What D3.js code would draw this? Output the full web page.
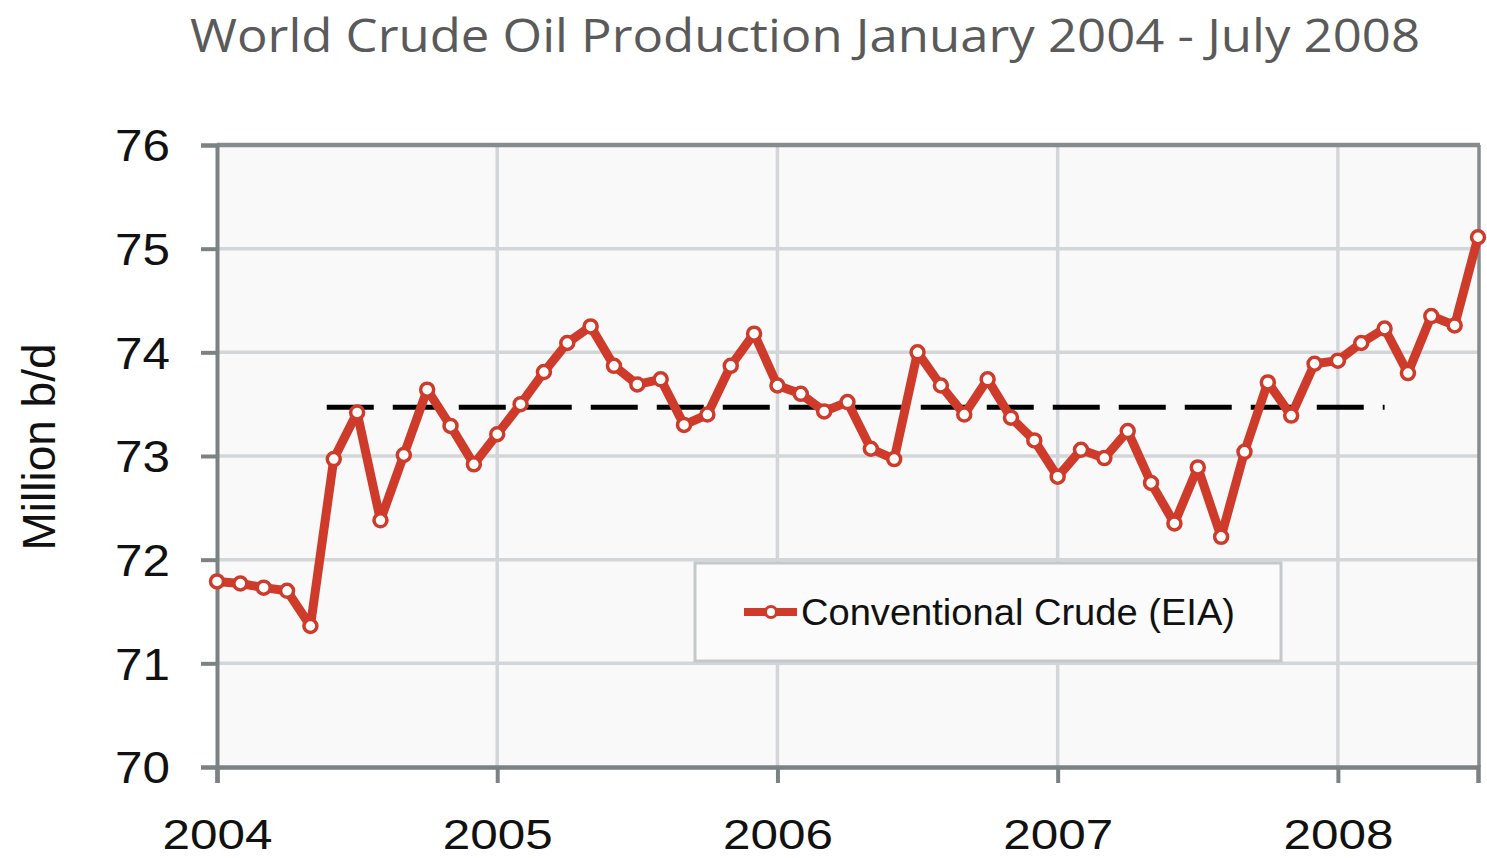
<!DOCTYPE html>
<html>
<head>
<meta charset="utf-8">
<script src="https://cdn.jsdelivr.net/npm/d3@7/dist/d3.min.js"></script>
<style>
  html, body { margin: 0; padding: 0; background: #ffffff; }
  svg { display: block; }
</style>
</head>
<body>
<svg id="chart" width="1487" height="858"></svg>
<script>
// ---------- DATA ----------
const months = [
  "2004-01","2004-02","2004-03","2004-04","2004-05","2004-06","2004-07","2004-08","2004-09","2004-10","2004-11","2004-12",
  "2005-01","2005-02","2005-03","2005-04","2005-05","2005-06","2005-07","2005-08","2005-09","2005-10","2005-11","2005-12",
  "2006-01","2006-02","2006-03","2006-04","2006-05","2006-06","2006-07","2006-08","2006-09","2006-10","2006-11","2006-12",
  "2007-01","2007-02","2007-03","2007-04","2007-05","2007-06","2007-07","2007-08","2007-09","2007-10","2007-11","2007-12",
  "2008-01","2008-02","2008-03","2008-04","2008-05","2008-06","2008-07"
];
const production = [
  71.79, 71.77, 71.73, 71.70, 71.36, 72.97, 73.42, 72.38, 73.01, 73.64, 73.29, 72.92,
  73.21, 73.50, 73.81, 74.09, 74.25, 73.87, 73.69, 73.74, 73.30, 73.40, 73.87, 74.18,
  73.68, 73.60, 73.43, 73.52, 73.07, 72.97, 74.00, 73.68, 73.40, 73.74, 73.37, 73.15,
  72.80, 73.06, 72.98, 73.24, 72.74, 72.35, 72.89, 72.22, 73.04, 73.71, 73.39, 73.89,
  73.92, 74.09, 74.23, 73.80, 74.35, 74.26, 75.11
];
// plateau reference line: level and span in month index units
const plateauLevel = 73.47;
const plateauSpan = [4.7, 50];

const yearTickIndex = [0, 12, 24, 36, 48];
const yearTickLabels = ["2004", "2005", "2006", "2007", "2008"];
const yTicks = [70, 71, 72, 73, 74, 75, 76];

const titleText = "World Crude Oil Production January 2004 - July 2008";
const yAxisTitle = "Million b/d";
const seriesName = "Conventional Crude (EIA)";

// ---------- LAYOUT ----------
const svg = d3.select("#chart");
const plot = { left: 217, right: 1478, top: 145, bottom: 767 };
const red = "#cf3b2a";
const axisGray = "#7c8184";
const gridGray = "#d3d6d9";

const x = d3.scaleLinear().domain([0, months.length - 1]).range([plot.left, plot.right]);
const y = d3.scaleLinear().domain([70, 76]).range([plot.bottom, plot.top]);

// title
svg.append("text")
  .attr("x", 190).attr("y", 52)
  .attr("textLength", 1230).attr("lengthAdjust", "spacingAndGlyphs")
  .attr("font-family", "'Open Sans', 'Noto Sans', sans-serif")
  .attr("font-size", 45)
  .attr("fill", "#5a5a5a")
  .text(titleText);

// plot background
svg.append("rect")
  .attr("x", plot.left).attr("y", plot.top)
  .attr("width", plot.right - plot.left).attr("height", plot.bottom - plot.top)
  .attr("fill", "#f9f9f9");

// grid lines
svg.append("g").selectAll("line.hg")
  .data(yTicks.filter(t => t > 70 && t < 76))
  .join("line")
  .attr("x1", plot.left).attr("x2", plot.right)
  .attr("y1", d => y(d)).attr("y2", d => y(d))
  .attr("stroke", gridGray).attr("stroke-width", 3.5);

svg.append("g").selectAll("line.vg")
  .data(yearTickIndex.slice(1))
  .join("line")
  .attr("x1", d => x(d)).attr("x2", d => x(d))
  .attr("y1", plot.top).attr("y2", plot.bottom)
  .attr("stroke", gridGray).attr("stroke-width", 3.5);

// border top/right
svg.append("line")
  .attr("x1", plot.left).attr("x2", plot.right + 2)
  .attr("y1", plot.top).attr("y2", plot.top)
  .attr("stroke", "#868b8e").attr("stroke-width", 4.5);
svg.append("line")
  .attr("x1", plot.right + 1).attr("x2", plot.right + 1)
  .attr("y1", plot.top).attr("y2", plot.bottom)
  .attr("stroke", "#868b8e").attr("stroke-width", 3.5);

// y axis
const yAxis = svg.append("g")
  .attr("transform", `translate(${plot.left},0)`)
  .call(d3.axisLeft(y).tickValues(yTicks).tickFormat(d3.format("d")).tickSize(16).tickPadding(31));
yAxis.select(".domain").attr("stroke", axisGray).attr("stroke-width", 4);
yAxis.selectAll(".tick line").attr("stroke", axisGray).attr("stroke-width", 4);
yAxis.selectAll(".tick text")
  .attr("font-family", "'Liberation Sans', Arial, sans-serif")
  .attr("font-size", 44)
  .attr("fill", "#111")
  .attr("dy", "0.36em")
  .attr("textLength", 55).attr("lengthAdjust", "spacingAndGlyphs");

// x axis
const xAxis = svg.append("g")
  .attr("transform", `translate(0,${plot.bottom})`)
  .call(d3.axisBottom(x).tickValues(yearTickIndex)
    .tickFormat((d, i) => yearTickLabels[i]).tickSize(16).tickPadding(35));
xAxis.select(".domain").attr("stroke", axisGray).attr("stroke-width", 4.5);
xAxis.selectAll(".tick line").attr("stroke", axisGray).attr("stroke-width", 4);
xAxis.selectAll(".tick text")
  .attr("font-family", "'Liberation Sans', Arial, sans-serif")
  .attr("font-size", 43)
  .attr("fill", "#111")
  .attr("dy", "0.71em")
  .attr("textLength", 110).attr("lengthAdjust", "spacingAndGlyphs");

// y axis title
svg.append("text")
  .attr("transform", "translate(55,447) rotate(-90)")
  .attr("text-anchor", "middle")
  .attr("font-family", "'Liberation Sans', Arial, sans-serif")
  .attr("font-size", 46)
  .attr("fill", "#111")
  .text(yAxisTitle);

// plateau dashed line
svg.append("line")
  .attr("x1", x(plateauSpan[0])).attr("x2", x(plateauSpan[1]))
  .attr("y1", y(plateauLevel)).attr("y2", y(plateauLevel))
  .attr("stroke", "#000").attr("stroke-width", 5)
  .attr("stroke-dasharray", "47 19");

// series line
const data = production.map((v, i) => ({ i, v, m: months[i] }));
svg.append("path")
  .datum(data)
  .attr("fill", "none")
  .attr("stroke", red)
  .attr("stroke-width", 9)
  .attr("stroke-linejoin", "round")
  .attr("d", d3.line().x(d => x(d.i)).y(d => y(d.v)));

svg.append("g").selectAll("circle")
  .data(data)
  .join("circle")
  .attr("cx", d => x(d.i)).attr("cy", d => y(d.v))
  .attr("r", 6.5)
  .attr("fill", "#fff")
  .attr("stroke", red)
  .attr("stroke-width", 3.5);

// legend
const lg = svg.append("g");
lg.append("rect")
  .attr("x", 695).attr("y", 563)
  .attr("width", 586).attr("height", 98)
  .attr("fill", "#fbfbfb")
  .attr("stroke", "#c4c8cb").attr("stroke-width", 3);
lg.append("line")
  .attr("x1", 744).attr("x2", 797).attr("y1", 612).attr("y2", 612)
  .attr("stroke", red).attr("stroke-width", 8);
lg.append("circle")
  .attr("cx", 771).attr("cy", 612).attr("r", 5.5)
  .attr("fill", "#fff").attr("stroke", red).attr("stroke-width", 3);
lg.append("text")
  .attr("x", 801).attr("y", 625)
  .attr("font-family", "'Liberation Sans', Arial, sans-serif")
  .attr("font-size", 36)
  .attr("fill", "#111")
  .attr("textLength", 434).attr("lengthAdjust", "spacingAndGlyphs")
  .text(seriesName);
</script>
</body>
</html>
